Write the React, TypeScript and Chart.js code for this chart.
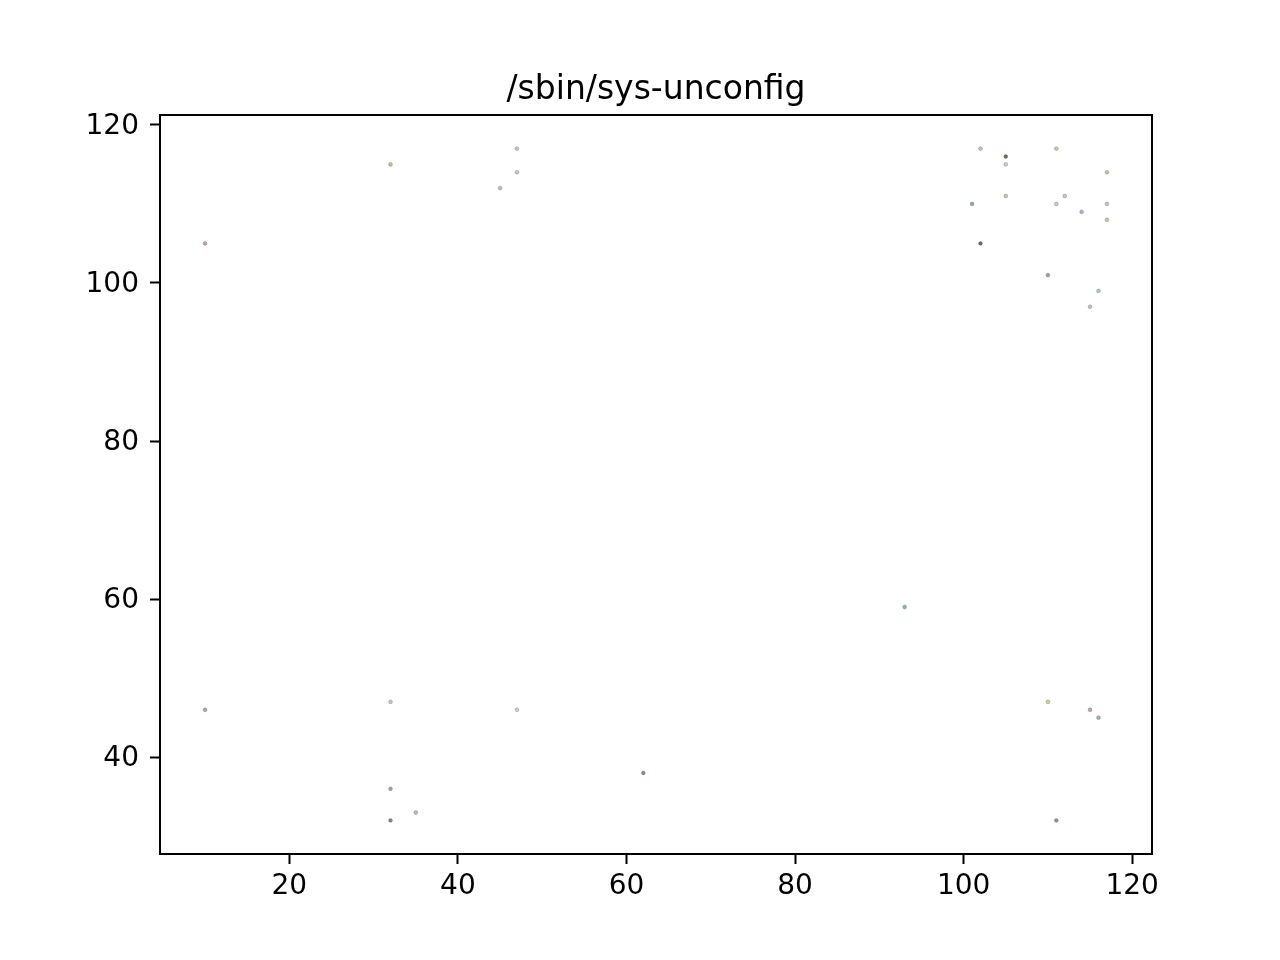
import React, { useEffect, useRef } from "react";
import { Chart, registerables } from "chart.js";

Chart.register(...registerables);

const title = "/sbin/sys-unconfig";

const xs = [
    102, 111, 105, 105, 117, 105, 101, 112, 111, 117, 114, 117, 102, 110, 116, 115,
    47, 32, 47, 45, 10,
    10, 32, 47, 62, 32, 35, 32,
    93, 110, 115, 116, 111,
];
const ys = [
    117, 117, 116, 115, 114, 111, 110, 111, 110, 110, 109, 108, 105, 101, 99, 97,
    117, 115, 114, 112, 105,
    46, 47, 46, 38, 36, 33, 32,
    59, 47, 46, 45, 32,
];
const colors = [
    "#c8c0d8", "#c8cca0", "#507850", "#d0c8d8", "#c8c890", "#c8d098", "#90a8a8", "#d0c0d8",
    "#c8c8d0", "#c0c8d0", "#a8b0d8", "#c0d090", "#7060a0", "#98a0a0", "#a8c8d8", "#c0c8b0",
    "#c8c8d0", "#c8c090", "#c8c8d0", "#c0c0c8", "#c898c8",
    "#a0a8c8", "#c0c8c0", "#d0d0d0", "#a08098", "#a0a0b0", "#a8c0d0", "#6890a0",
    "#80c0b0", "#d0d090", "#c8a0a0", "#a8a8d0", "#9090c0",
];

const xTicks = [20, 40, 60, 80, 100, 120];
const yTicks = [40, 60, 80, 100, 120];

const font = "DejaVu Sans";

// frame round the plot area + title above it
const framePlugin = {
    id: "frame",
    afterDraw(chart: Chart) {
        const { ctx, chartArea: a } = chart;
        ctx.save();
        ctx.strokeStyle = "#000";
        ctx.lineWidth = 2;
        ctx.strokeRect(a.left, a.top, a.right - a.left, a.bottom - a.top);
        ctx.fillStyle = "#000";
        ctx.font = `33px "${font}"`;
        ctx.textAlign = "center";
        ctx.textBaseline = "alphabetic";
        ctx.fillText(title, (a.left + a.right) / 2, 99);
        ctx.restore();
    },
};

export default function App() {
    const ref = useRef<HTMLCanvasElement | null>(null);

    useEffect(() => {
        if (!ref.current) return;

        const chart = new Chart(ref.current, {
            type: "scatter",
            data: {
                datasets: [
                    {
                        data: xs.map((x, i) => ({ x, y: ys[i] })),
                        backgroundColor: colors,
                        borderColor: "rgba(80,80,80,0.5)",
                        borderWidth: 0.6,
                        pointRadius: 1.9,
                    },
                ],
            },
            options: {
                responsive: false,
                animation: false,
                devicePixelRatio: 1,
                layout: { padding: { top: 115, right: 128, bottom: 0, left: 0 } },
                plugins: {
                    legend: { display: false },
                    tooltip: { enabled: false },
                    title: { display: false },
                },
                scales: {
                    x: {
                        type: "linear",
                        min: 4.65,
                        max: 122.35,
                        afterBuildTicks: (s) => {
                            s.ticks = xTicks.map((v) => ({ value: v }));
                        },
                        afterFit: (s) => {
                            s.height = 106;
                        },
                        grid: {
                            drawOnChartArea: false,
                            tickLength: 10,
                            tickWidth: 2,
                            tickColor: "#000",
                        },
                        border: { display: true, color: "#000", width: 2 },
                        ticks: {
                            color: "#000",
                            padding: 6,
                            maxRotation: 0,
                            font: { family: font, size: 28 },
                        },
                    },
                    y: {
                        type: "linear",
                        min: 27.75,
                        max: 121.25,
                        afterBuildTicks: (s) => {
                            s.ticks = yTicks.map((v) => ({ value: v }));
                        },
                        afterFit: (s) => {
                            s.width = 160;
                        },
                        grid: {
                            drawOnChartArea: false,
                            tickLength: 10,
                            tickWidth: 2,
                            tickColor: "#000",
                        },
                        border: { display: true, color: "#000", width: 2 },
                        ticks: {
                            color: "#000",
                            padding: 11,
                            labelOffset: 2,
                            font: { family: font, size: 28 },
                        },
                    },
                },
            },
            plugins: [framePlugin],
        });

        return () => chart.destroy();
    }, []);

    return (
        <div
            style={{
                position: "fixed",
                left: 0,
                top: 0,
                width: 1280,
                height: 960,
                background: "#fff",
            }}
        >
            <canvas ref={ref} width={1280} height={960} style={{ width: 1280, height: 960 }} />
        </div>
    );
}
